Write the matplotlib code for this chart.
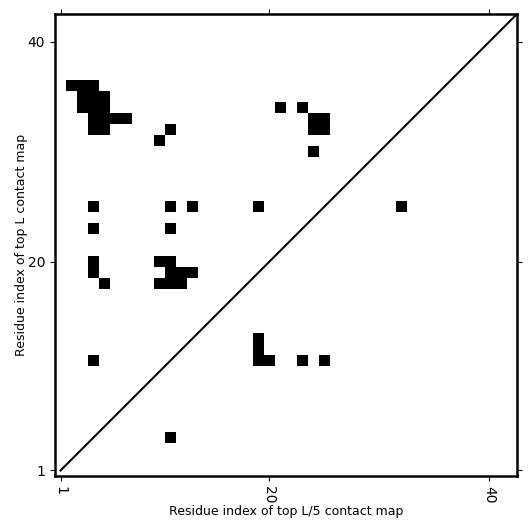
import numpy as np
import matplotlib
matplotlib.use("Agg")
import matplotlib.pyplot as plt

# longueur de la séquence
L = 42

# contacts au-dessus de la diagonale (top L)
contacts_haut = [
    (2, 36), (3, 36), (4, 36),
    (3, 35), (4, 35), (5, 35),
    (3, 34), (4, 34), (5, 34), (21, 34), (23, 34),
    (4, 33), (5, 33), (6, 33), (7, 33), (24, 33), (25, 33),
    (4, 32), (5, 32), (11, 32), (24, 32), (25, 32),
    (10, 31), (24, 30),
    (4, 25), (11, 25), (13, 25), (19, 25),
    (4, 23), (11, 23),
    (4, 20), (10, 20), (11, 20),
    (4, 19), (11, 19), (12, 19), (13, 19),
    (5, 18), (10, 18), (11, 18), (12, 18),
    (4, 11),
]

# contacts sous la diagonale (top L/5)
contacts_bas = [
    (32, 25),
    (19, 13), (19, 12),
    (19, 11), (20, 11), (23, 11), (25, 11),
    (11, 4),
]

ticks = [1, 20, 40]

mapa = np.zeros((L, L))
for i, j in contacts_haut + contacts_bas:
    mapa[j - 1, i - 1] = 1

fig = plt.figure(figsize=(5.31, 5.31), dpi=100)
ax = fig.add_axes([0.1036, 0.1036, 0.87, 0.87])

ax.imshow(mapa, cmap='Greys', origin='lower', interpolation='nearest',
          extent=[0.5, L + 0.5, 0.5, L + 0.5], aspect='auto', vmin=0, vmax=1)

# diagonale
ax.plot([1, L + 0.5], [1, L + 0.5], color='black', linewidth=1.5)

ax.set_xlim(0.5, L + 0.5)
ax.set_ylim(0.5, L + 0.5)
ax.set_xticks(ticks)
ax.set_yticks(ticks)
ax.set_xticklabels([str(t) for t in ticks], rotation=270)
ax.tick_params(direction='out', top=True, right=True, labelsize=10)

for s in ax.spines.values():
    s.set_linewidth(1.8)

ax.set_xlabel('Residue index of top L/5 contact map', fontsize=9, labelpad=1)
ax.set_ylabel('Residue index of top L contact map', fontsize=9, labelpad=0)

fig.savefig('out.png', dpi=100)
